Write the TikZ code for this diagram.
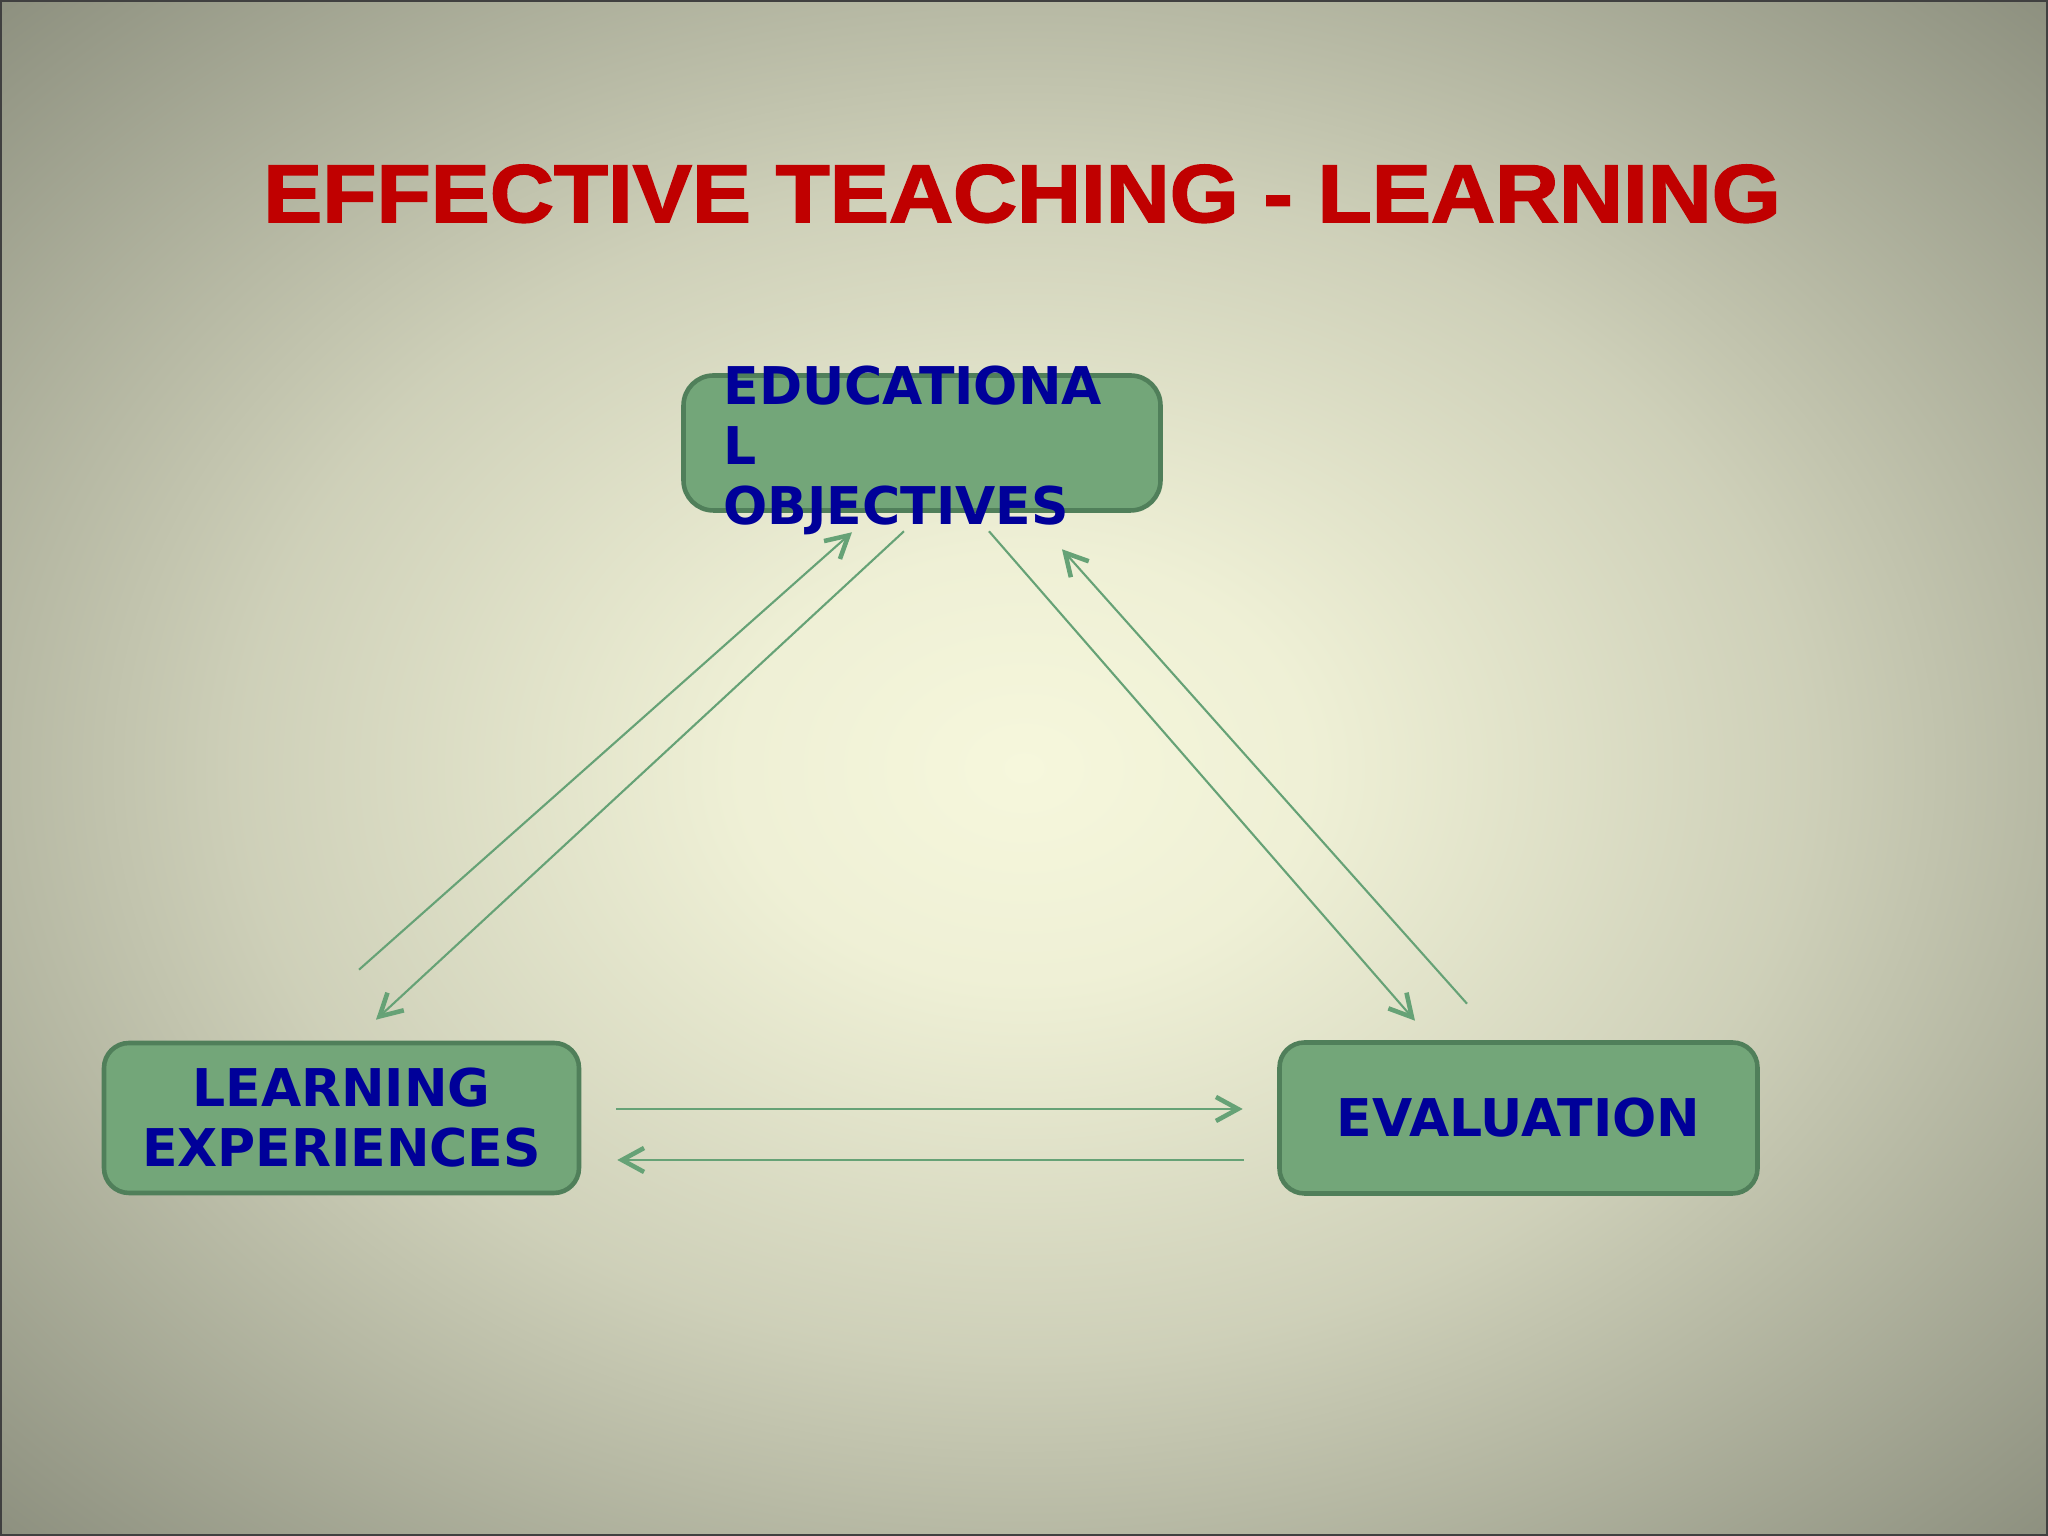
\documentclass[tikz,border=0pt]{standalone}
\usepackage{fontspec}
\setmainfont{Liberation Sans}
\newfontfamily\stagefont{DejaVu Sans}
\newfontfamily\titlefont[FakeBold=2, FakeStretch=1.083]{Liberation Sans Bold}
\usetikzlibrary{arrows.meta}

\definecolor{bgin}{HTML}{F6F7DC}
\definecolor{bgout}{HTML}{8D907F}
\colorlet{bgmid}{bgin!62!bgout}
\definecolor{titlered}{HTML}{C00000}
\definecolor{stageblue}{HTML}{000099}
\definecolor{stagefill}{HTML}{73A679}
\definecolor{stageedge}{HTML}{507F5A}
\definecolor{flowgreen}{HTML}{66A276}
\pgfdeclareradialshading{slideglow}{\pgfpointorigin}{color(0bp)=(bgin); color(5bp)=(bgin!93!bgout); color(13.5bp)=(bgmid); color(25bp)=(bgout); color(50bp)=(bgout)}

\begin{document}
\begin{tikzpicture}[
    stagebox/.style={draw=stageedge, line width=1.3pt, fill=stagefill, rounded corners=0.25cm, inner sep=0pt},
    stagetext/.style={text=stageblue, font=\stagefont\bfseries\fontsize{14.8pt}{17.07pt}\selectfont},
    flow/.style={draw=flowgreen, line width=0.6pt, -{Straight Barb[length=2.2mm, width=2.4mm, line width=1.3pt]}}
  ]
      \useasboundingbox (0, 0) rectangle (20.48, 15.36);
      \begin{scope}
        \clip (0, 0) rectangle (20.48, 15.36);
        \shade[shading=slideglow] (10.24, 7.68) ellipse [x radius=14.48, y radius=10.86];
      \end{scope}
      \draw[line width=0.02cm, draw=black!75] (0.01, 0.01) rectangle (20.47, 15.35);

      \node (title) at (10.22, 13.14) [anchor=base, text=titlered, font=\titlefont\fontsize{23.3pt}{28pt}\selectfont] {EFFECTIVE TEACHING - LEARNING};

      \node (objbox) at (9.22, 10.93) [stagebox, rounded corners=0.3cm, minimum width=4.77cm, minimum height=1.35cm] {};
      \node (objtext) at (7.23, 11.71) [stagetext, anchor=north west, inner sep=0pt, align=left] {EDUCATIONA\\L\\OBJECTIVES};
      \node (learnbox) at (3.415, 4.18) [stagebox, stagetext, minimum width=4.75cm, minimum height=1.5cm, align=center] {LEARNING\\EXPERIENCES};
      \node (evalbox) at (15.185, 4.18) [stagebox, stagetext, minimum width=4.78cm, minimum height=1.51cm] {EVALUATION};

      \draw[flow] ([shift={(0.175, 0.71)}]learnbox.north) -- ([shift={(-0.70, -0.195)}]objbox.south);
      \draw[flow] ([shift={(-0.18, -0.185)}]objbox.south) -- ([shift={(0.345, 0.21)}]learnbox.north);
      \draw[flow] ([shift={(0.67, -0.185)}]objbox.south) -- ([shift={(-1.035, 0.195)}]evalbox.north);
      \draw[flow] ([shift={(-0.515, 0.365)}]evalbox.north) -- ([shift={(1.40, -0.365)}]objbox.south);
      \draw[flow] ([shift={(0.35, 0.09)}]learnbox.east) -- ([shift={(-0.345, 0.09)}]evalbox.west);
      \draw[flow] ([shift={(-0.335, -0.42)}]evalbox.west) -- ([shift={(0.36, -0.42)}]learnbox.east);
    \end{tikzpicture}
\end{document}
